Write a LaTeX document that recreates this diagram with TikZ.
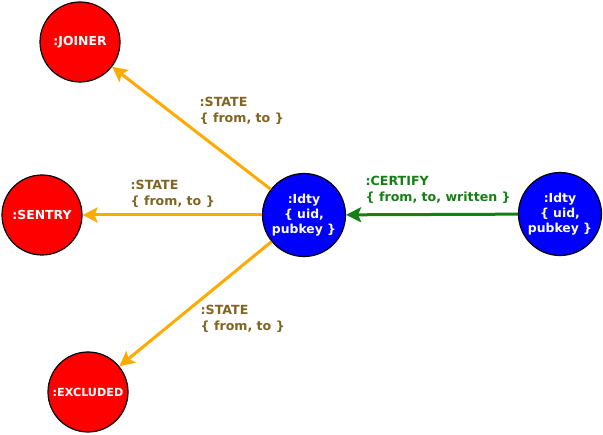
\documentclass[tikz,border=0pt]{standalone}
\usepackage{fontspec}
\setmainfont{DejaVu Sans}
\usetikzlibrary{arrows.meta}
\definecolor{redfill}{RGB}{255,0,0}
\definecolor{bluefill}{RGB}{0,0,255}
\definecolor{statecol}{RGB}{255,170,0}
\definecolor{labcol}{RGB}{128,100,32}
\definecolor{certcol}{RGB}{20,128,20}
\begin{document}
\begin{tikzpicture}[x=1pt,y=-1pt,
  statenode/.style={circle, draw=black, line width=1.2pt, fill=redfill, minimum size=80pt, inner sep=0pt, text=white, font=\bfseries\fontsize{12.4}{14}\selectfont},
  idnode/.style={circle, draw=black, line width=1.2pt, fill=bluefill, minimum size=83pt, inner sep=0pt, text=white, align=center, font=\bfseries\fontsize{12.4}{15}\selectfont},
  statearrow/.style={draw=statecol, line width=3pt, -{Stealth[length=15pt,width=15pt,inset=3pt]}},
  certarrow/.style={draw=certcol, line width=3pt, -{Stealth[length=15pt,width=15pt,inset=3pt]}},
  statelab/.style={anchor=west, inner sep=0pt, align=left, text=labcol, font=\bfseries\fontsize{12.6}{16}\selectfont},
  certlab/.style={anchor=west, inner sep=0pt, align=left, text=certcol, font=\bfseries\fontsize{12.6}{16}\selectfont}
]
\useasboundingbox (0,0) rectangle (603,435);
\node[statenode] (joiner) at (80,42) {:JOINER};
\node[statenode] (sentry) at (42,215) {:SENTRY};
\node[statenode, font=\bfseries\fontsize{11.2}{13}\selectfont] (excluded) at (88,392) {:EXCLUDED};
\node[idnode] (idA) at (304,215) {:Idty\\\{ uid,\\pubkey \}};
\node[idnode] (idB) at (560,214) {:Idty\\\{ uid,\\pubkey \}};
\draw[statearrow] (idA) -- (joiner);
\draw[statearrow] (idA) -- (sentry);
\draw[statearrow] (idA) -- (excluded);
\draw[certarrow] (idB) -- (idA);
\node[statelab] (l1) at (199.5,111) {:STATE\\\{ from, to \}};
\node[statelab] (l2) at (130.5,194) {:STATE\\\{ from, to \}};
\node[statelab] (l3) at (200.5,319) {:STATE\\\{ from, to \}};
\node[certlab] (l4) at (365.5,190) {:CERTIFY\\\{ from, to, written \}};
\end{tikzpicture}
\end{document}
